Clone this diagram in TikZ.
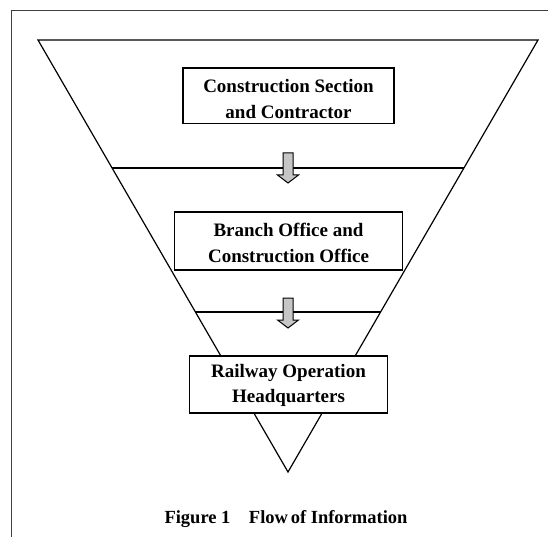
\documentclass[tikz,border=0pt]{standalone}
\usepackage{fontspec}
\setmainfont{Liberation Serif}
\begin{document}
\begin{tikzpicture}[x=1pt,y=-1pt,
  outline/.style={line width=1.2pt, draw=black},
  boxnode/.style={draw=black, line width=1.2pt, fill=white, inner sep=0pt},
  boxtext/.style={align=center, inner sep=0pt,
    font=\bfseries\fontsize{19}{25.5}\selectfont},
  arrowshape/.style={draw=black, line width=1pt, fill=gray!45, line join=miter}
]
\useasboundingbox (0,0) rectangle (548,537);
% frame
\draw[line width=1.4pt, draw=black!75] (11.5,537) -- (11.5,10.5) -- (548,10.5);
% funnel
\coordinate (tl) at (38,40);
\coordinate (tr) at (538,40);
\coordinate (apex) at (288,472);
\draw[outline, line join=miter] (tl) -- (tr) -- (apex) -- cycle;
% separator lines
\coordinate (l1a) at (112,168);
\coordinate (l1b) at (464,168);
\coordinate (l2a) at (195,312);
\coordinate (l2b) at (381,312);
\draw[outline] (l1a) -- (l1b);
\draw[outline] (l2a) -- (l2b);
% boxes
\node[boxnode, minimum width=211pt, minimum height=55.5pt] (b1) at (288.5,95.75) {};
\node[boxnode, minimum width=228pt, minimum height=58pt] (b2) at (288.5,241) {};
\node[boxnode, minimum width=198pt, minimum height=57pt] (b3) at (288.5,384.5) {};
\node[boxtext, yshift=-3.5pt] (b1t) at (b1.center) {Construction Section\\and Contractor};
\node[boxtext, yshift=-2pt] (b2t) at (b2.center) {Branch Office and\\Construction Office};
\node[boxtext, yshift=-1pt] (b3t) at (b3.center) {Railway Operation\\Headquarters};
% block arrows
\coordinate (t1) at (288,183);
\coordinate (t2) at (288,328);
\foreach \t in {t1,t2}{
  \draw[arrowshape, shift={(\t)}] (-5,-30) -- (5,-30) -- (5,-8) -- (10.5,-8)
    -- (0,0) -- (-10.5,-8) -- (-5,-8) -- cycle;
}
% caption
\node[font=\bfseries\fontsize{18.5}{20}\selectfont, inner sep=0pt] (cap) at (286,519)
  {Figure 1\hspace{1em}Flow\hspace{0.15em}of Information};
\end{tikzpicture}
\end{document}
